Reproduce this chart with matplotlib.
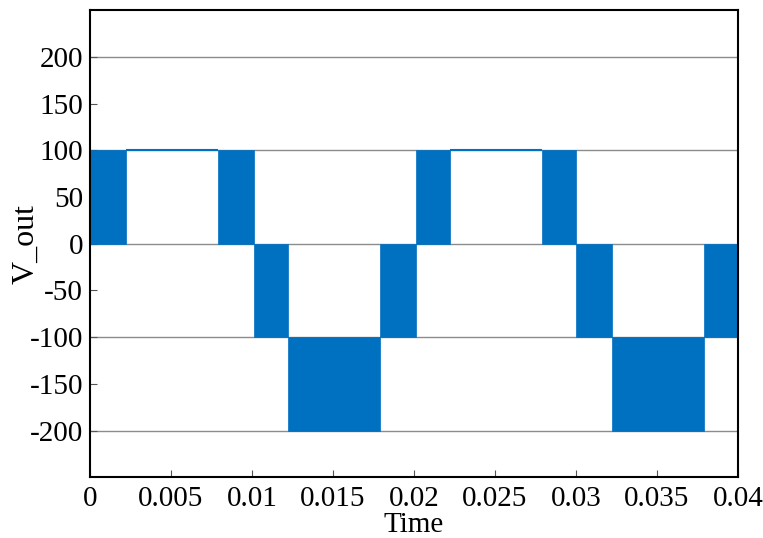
import numpy as np
import matplotlib.pyplot as plt

plt.rcParams['font.family'] = ['Liberation Serif', 'DejaVu Serif']
plt.rcParams['axes.unicode_minus'] = False

# switching bands of the output voltage: start time, end time, low level, high level
seg_start = [0.0, 0.0079, 0.0101, 0.0122, 0.0179, 0.0201, 0.0279, 0.0300, 0.0322, 0.0379]
seg_end   = [0.0022, 0.0101, 0.0122, 0.0179, 0.0201, 0.0222, 0.0300, 0.0322, 0.0379, 0.0400]
seg_low   = [0, 0, -100, -200, -100, 0, 0, -100, -200, -100]
seg_high  = [100, 100, 0, -100, 0, 100, 100, 0, -100, 0]

# flat parts where the output sits at one level
flat_start = [0.0022, 0.0222]
flat_end   = [0.0079, 0.0279]
flat_level = [100, 100]

blue = '#0070C0'

fig = plt.figure(figsize=(7.63, 5.38), dpi=100)
ax = fig.add_axes([0.118, 0.113, 0.849, 0.868])

for y in [-200, -100, 0, 100, 200]:
    ax.axhline(y, color='#8c8c8c', lw=1.0, zorder=1)

widths = np.array(seg_end) - np.array(seg_start)
heights = np.array(seg_high) - np.array(seg_low)
ax.bar(seg_start, heights, width=widths, bottom=seg_low, align='edge',
       color=blue, edgecolor=blue, lw=0.5, zorder=2)
ax.hlines(flat_level, flat_start, flat_end, color=blue, lw=1.5, zorder=2)

ax.set_xlim(0, 0.04)
ax.set_ylim(-250, 250)
ax.set_xticks(np.arange(0, 0.0401, 0.005))
ax.set_xticklabels(['0', '0.005', '0.01', '0.015', '0.02', '0.025', '0.03', '0.035', '0.04'])
ax.set_yticks(np.arange(-200, 201, 50))
ax.tick_params(direction='in', length=5, width=0.8, labelsize=21, colors='#555555',
               labelcolor='black')
ax.tick_params(axis='x', pad=6)
ax.tick_params(axis='y', pad=5)

for s in ax.spines.values():
    s.set_linewidth(1.5)
    s.set_color('black')

ax.set_xlabel('Time', fontsize=21, labelpad=0)
ax.set_ylabel('V_out', fontsize=23, labelpad=-8)

fig.savefig('out.png', dpi=100)
